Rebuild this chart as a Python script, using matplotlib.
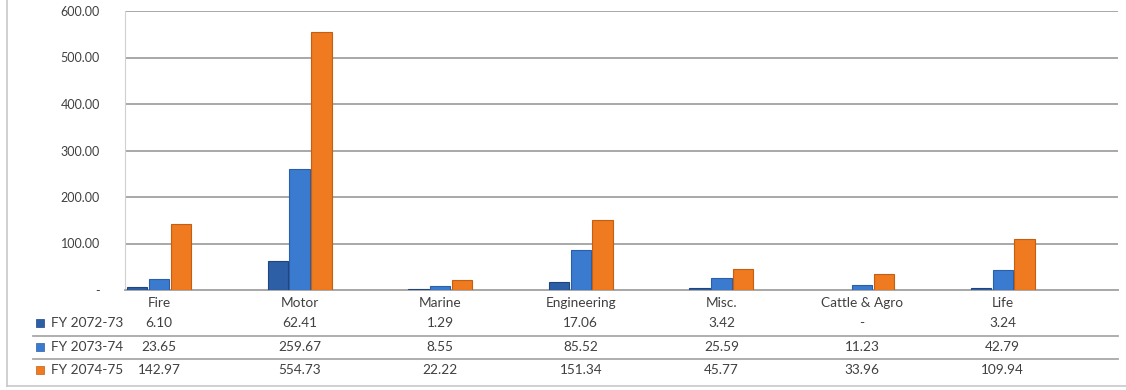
import matplotlib
matplotlib.use("Agg")
import matplotlib.pyplot as plt
from matplotlib.lines import Line2D
from matplotlib.patches import Rectangle
import numpy as np

categories = ["Fire", "Motor", "Marine", "Engineering", "Misc.", "Cattle & Agro", "Life"]
series_names = ["FY 2072-73", "FY 2073-74", "FY 2074-75"]
fy_2072_73 = [6.10, 62.41, 1.29, 17.06, 3.42, None, 3.24]
fy_2073_74 = [23.65, 259.67, 8.55, 85.52, 25.59, 11.23, 42.79]
fy_2074_75 = [142.97, 554.73, 22.22, 151.34, 45.77, 33.96, 109.94]
y_ticks = [0, 100, 200, 300, 400, 500, 600]
y_tick_labels = ["-", "100.00", "200.00", "300.00", "400.00", "500.00", "600.00"]

series = [fy_2072_73, fy_2073_74, fy_2074_75]
colors = ["#2D5FA6", "#3A7BD0", "#EF7A1F"]
edges = ["#1F4580", "#2A5EA8", "#C45E12"]

plt.rcParams['font.family'] = ['Lato', 'DejaVu Sans']
txt_color = "#404040"

W, H = 1126, 390
fig = plt.figure(figsize=(W / 100, H / 100), dpi=100)
left_px, right_px, top_px, bot_px = 125, 1118, 11, 290
ax = fig.add_axes([left_px / W, 1 - bot_px / H, (right_px - left_px) / W, (bot_px - top_px) / H])

x = np.arange(len(categories))
bw = 0.145
offs = [-0.155, 0.0, 0.155]
for vals, c, ec, o in zip(series, colors, edges, offs):
    v = [np.nan if vv is None else vv for vv in vals]
    ax.bar(x + o, v, width=bw, color=c, edgecolor=ec, linewidth=0.8, zorder=3)

ax.set_xlim(-0.242, 6.82)
ax.set_ylim(0, 600)
ax.set_yticks(y_ticks)
ax.set_yticklabels(y_tick_labels, color=txt_color, fontsize=9)
ax.tick_params(axis='y', length=0, pad=18)
ax.set_xticks([])
ax.grid(axis='y', color="#A8A8A8", linewidth=1.4, zorder=0)
for s in ["top", "right"]:
    ax.spines[s].set_visible(False)
ax.spines["left"].set_color("#D0D0D0")
ax.spines["bottom"].set_color("#A8A8A8")
ax.spines["bottom"].set_linewidth(1.4)

def ay(p):
    return (bot_px - p) / (bot_px - top_px)

fs = 9.8
tr = ax.get_xaxis_transform()
for i, c in enumerate(categories):
    ax.text(i, ay(303), c, ha='center', va='center', fontsize=fs, color=txt_color,
            transform=tr, clip_on=False)

row_y = [323, 347, 370]
for r, (name, vals, col) in enumerate(zip(series_names, series, colors)):
    yy = row_y[r]
    fig.patches.append(Rectangle((36 / W, 1 - (yy + 4) / H), 8 / W, 8 / H,
                                 transform=fig.transFigure, facecolor=col,
                                 edgecolor=edges[r], linewidth=0.5))
    fig.text(51 / W, 1 - yy / H, name, ha='left', va='center', fontsize=fs, color=txt_color)
    for i, v in enumerate(vals):
        s = "-" if v is None else f"{v:.2f}"
        ax.text(i, ay(yy), s, ha='center', va='center', fontsize=fs, color=txt_color,
                transform=tr, clip_on=False)

for p in [336, 359]:
    fig.add_artist(Line2D([33 / W, right_px / W], [1 - p / H, 1 - p / H],
                          color="#A8A8A8", linewidth=1.3, transform=fig.transFigure))

# outer chart border (left and bottom visible)
fig.add_artist(Line2D([7 / W, 7 / W], [1 - 386 / H, 1.0], color="#C8C8C8",
                      linewidth=1.2, transform=fig.transFigure))
fig.add_artist(Line2D([7 / W, 1.0], [1 - 386 / H, 1 - 386 / H], color="#C8C8C8",
                      linewidth=1.2, transform=fig.transFigure))

fig.savefig("out.png", dpi=100)
